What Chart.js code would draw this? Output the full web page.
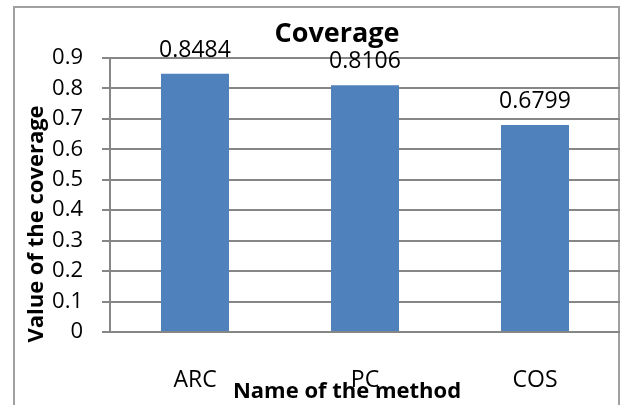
<!DOCTYPE html>
<html>
<head>
<meta charset="utf-8">
<script src="https://cdn.jsdelivr.net/npm/chart.js@4/dist/chart.umd.min.js"></script>
<style>
    body { margin: 0; background: #fff; }
    #wrap { width: 622px; height: 405px; }
</style>
</head>
<body>
<div id="wrap"><canvas id="chart" width="622" height="405"></canvas></div>
<script>
// values
const methods = ['ARC', 'PC', 'COS'];
const coverage = [0.8484, 0.8106, 0.6799];
const chart_title = 'Coverage';
const x_title = 'Name of the method';
const y_title = 'Value of the coverage';
const y_min = 0;
const y_max = 0.9;
const y_step = 0.1;

const font_family = '"Open Sans", "Liberation Sans", sans-serif';

// titles, data labels and the outer frame, placed like the Excel original
const decorations = {
    id: 'decorations',
    beforeDraw(chart) {
        let ctx = chart.ctx;
        ctx.save();
        ctx.strokeStyle = '#a0a0a0';
        ctx.lineWidth = 2;
        ctx.strokeRect(14, 7, 605, 420);
        ctx.restore();
    },
    afterDraw(chart) {
        let ctx = chart.ctx;
        ctx.save();
        ctx.fillStyle = '#000';

        ctx.font = 'bold 27px ' + font_family;
        ctx.textAlign = 'center';
        ctx.textBaseline = 'alphabetic';
        ctx.fillText(chart_title, 337, 42);

        ctx.font = 'bold 22px ' + font_family;
        ctx.fillText(x_title, 347, 398);

        ctx.save();
        ctx.translate(43, 224);
        ctx.rotate(-Math.PI / 2);
        ctx.fillText(y_title, 0, 0);
        ctx.restore();

        ctx.font = '23px ' + font_family;
        let meta = chart.getDatasetMeta(0);
        meta.data.forEach((bar, i) => {
            ctx.fillText(String(coverage[i]), bar.x, bar.y - 17);
        });
        ctx.restore();
    }
};

function init() {
    let ctx = document.getElementById('chart');
    new Chart(ctx, {
        type: 'bar',
        data: {
            labels: methods,
            datasets: [{
                label: chart_title,
                data: coverage,
                backgroundColor: '#4F81BD',
                borderWidth: 0,
                categoryPercentage: 1,
                barPercentage: 0.4
            }]
        },
        options: {
            responsive: false,
            animation: false,
            devicePixelRatio: 1,
            layout: { padding: { top: 58, right: 2, bottom: 0, left: 0 } },
            plugins: {
                legend: { display: false },
                title: { display: false },
                tooltip: { enabled: false }
            },
            scales: {
                x: {
                    grid: { display: false, drawTicks: false },
                    border: { display: false },
                    ticks: {
                        color: '#000',
                        padding: 35,
                        font: { family: font_family, size: 23 }
                    },
                    afterFit: s => { s.height = 73; }
                },
                y: {
                    min: y_min,
                    max: y_max,
                    grid: { color: '#868686', lineWidth: 2, tickLength: 8 },
                    border: { color: '#868686', width: 2 },
                    ticks: {
                        stepSize: y_step,
                        color: '#000',
                        padding: 19,
                        font: { family: font_family, size: 22 },
                        callback: v => v === 0 ? '0' : v.toFixed(1)
                    },
                    afterFit: s => { s.width = 110; }
                }
            }
        },
        plugins: [decorations]
    });
}

init();
</script>
</body>
</html>
